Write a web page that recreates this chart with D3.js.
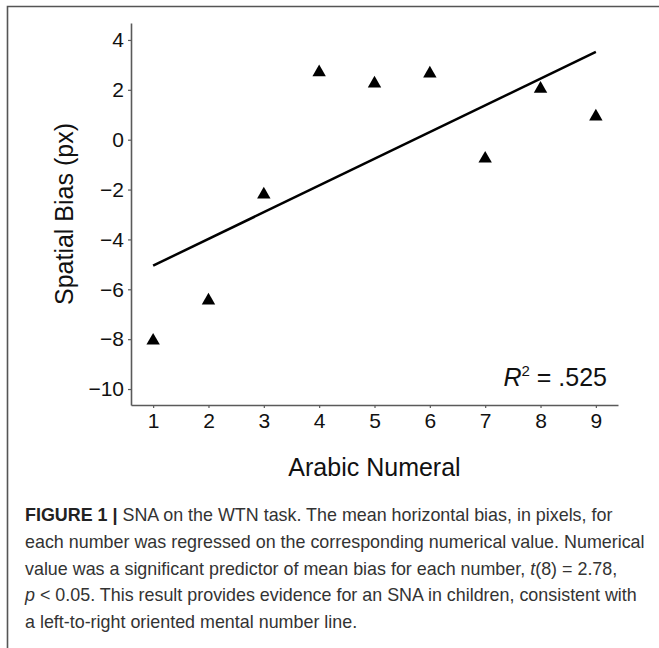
<!DOCTYPE html>
<html>
<head>
<meta charset="utf-8">
<script src="https://cdn.jsdelivr.net/npm/d3@7"></script>
<style>
  body { margin: 0; background: #fff; }
  svg { display: block; }
</style>
</head>
<body>
<script>
// data
var numerals = [1, 2, 3, 4, 5, 6, 7, 8, 9];
var bias = [-8.06, -6.45, -2.2, 2.7, 2.25, 2.65, -0.76, 2.04, 0.93];
var yTicks = [-10, -8, -6, -4, -2, 0, 2, 4];
var rSquared = ".525";

var captionLines = [
  [{t: "FIGURE 1 |", b: true}, {t: " SNA on the WTN task. The mean horizontal bias, in pixels, for"}],
  [{t: "each number was regressed on the corresponding numerical value. Numerical"}],
  [{t: "value was a significant predictor of mean bias for each number, "}, {t: "t", i: true}, {t: "(8) = 2.78,"}],
  [{t: "p", i: true}, {t: " < 0.05. This result provides evidence for an SNA in children, consistent with"}],
  [{t: "a left-to-right oriented mental number line."}]
];

var W = 659, H = 648;
var font = '"Liberation Sans", Arial, Helvetica, sans-serif';
var axisGrey = "#5a5a5a";

var svg = d3.select("body").append("svg")
    .attr("width", W)
    .attr("height", H);

// figure frame (runs off the right and bottom edges)
svg.append("path")
    .attr("d", "M7.5," + H + "V6.5H" + (W + 2))
    .attr("fill", "none")
    .attr("stroke", "#555")
    .attr("stroke-width", 1.6);

var x = d3.scaleLinear().domain([0.6, 9.4]).range([131, 618]);
var y = d3.scaleLinear().domain([-10.64, 4.68]).range([405, 23]);

// x axis
var gx = svg.append("g")
    .attr("transform", "translate(0," + y.range()[0] + ")")
    .call(d3.axisBottom(x).tickValues(numerals).tickSize(3).tickSizeOuter(0).tickPadding(5));
// y axis
var gy = svg.append("g")
    .attr("transform", "translate(" + x.range()[0] + ",0)")
    .call(d3.axisLeft(y).tickValues(yTicks).tickSize(3).tickSizeOuter(0).tickPadding(4));

[gx, gy].forEach(function(g) {
  g.attr("font-size", 21).attr("font-family", font);
  g.select(".domain").attr("stroke", axisGrey).attr("stroke-width", 1.6);
  g.selectAll(".tick line").attr("stroke", axisGrey).attr("stroke-width", 1.2);
  g.selectAll(".tick text").attr("fill", "#111");
});

// axis titles
svg.append("text")
    .attr("x", (x.range()[0] + x.range()[1]) / 2)
    .attr("y", 476)
    .attr("text-anchor", "middle")
    .attr("font-family", font)
    .attr("font-size", 25)
    .attr("fill", "#111")
    .text("Arabic Numeral");

svg.append("text")
    .attr("transform", "translate(73," + (y.range()[0] + y.range()[1]) / 2 + ") rotate(-90)")
    .attr("text-anchor", "middle")
    .attr("font-family", font)
    .attr("font-size", 25)
    .attr("fill", "#111")
    .text("Spatial Bias (px)");

// least squares fit
var mx = d3.mean(numerals), my = d3.mean(bias);
var sxy = d3.sum(numerals, function(v, i) { return (v - mx) * (bias[i] - my); });
var sxx = d3.sum(numerals, function(v) { return (v - mx) * (v - mx); });
var slope = sxy / sxx, icpt = my - slope * mx;
var ends = d3.extent(numerals);

svg.append("path")
    .datum(ends)
    .attr("d", d3.line()
      .x(function(d) { return x(d); })
      .y(function(d) { return y(icpt + slope * d); }))
    .attr("fill", "none")
    .attr("stroke", "#000")
    .attr("stroke-width", 2.5);

// points
svg.selectAll(".pt")
    .data(numerals)
  .enter().append("path")
    .attr("class", "pt")
    .attr("transform", function(d, i) { return "translate(" + x(d) + "," + y(bias[i]) + ")"; })
    .attr("d", d3.symbol().type(d3.symbolTriangle).size(78))
    .attr("fill", "#000");

// R^2 note
var r2 = svg.append("text")
    .attr("x", 607)
    .attr("y", 386)
    .attr("text-anchor", "end")
    .attr("font-family", font)
    .attr("font-size", 25)
    .attr("fill", "#111");
r2.append("tspan").style("font-style", "italic").text("R");
r2.append("tspan").attr("dy", -10).attr("font-size", 15).text("2");
r2.append("tspan").attr("dy", 10).text(" = " + rSquared);

// caption
var cap = svg.append("g")
    .attr("font-family", font)
    .attr("font-size", 17.9)
    .attr("fill", "#333");

captionLines.forEach(function(line, i) {
  var t = cap.append("text")
      .attr("x", 25)
      .attr("y", 521 + i * 26.8);
  line.forEach(function(seg) {
    t.append("tspan")
        .attr("font-weight", seg.b ? "bold" : null)
        .style("font-style", seg.i ? "italic" : null)
        .attr("fill", seg.b ? "#222" : null)
        .text(seg.t);
  });
});
</script>
</body>
</html>
